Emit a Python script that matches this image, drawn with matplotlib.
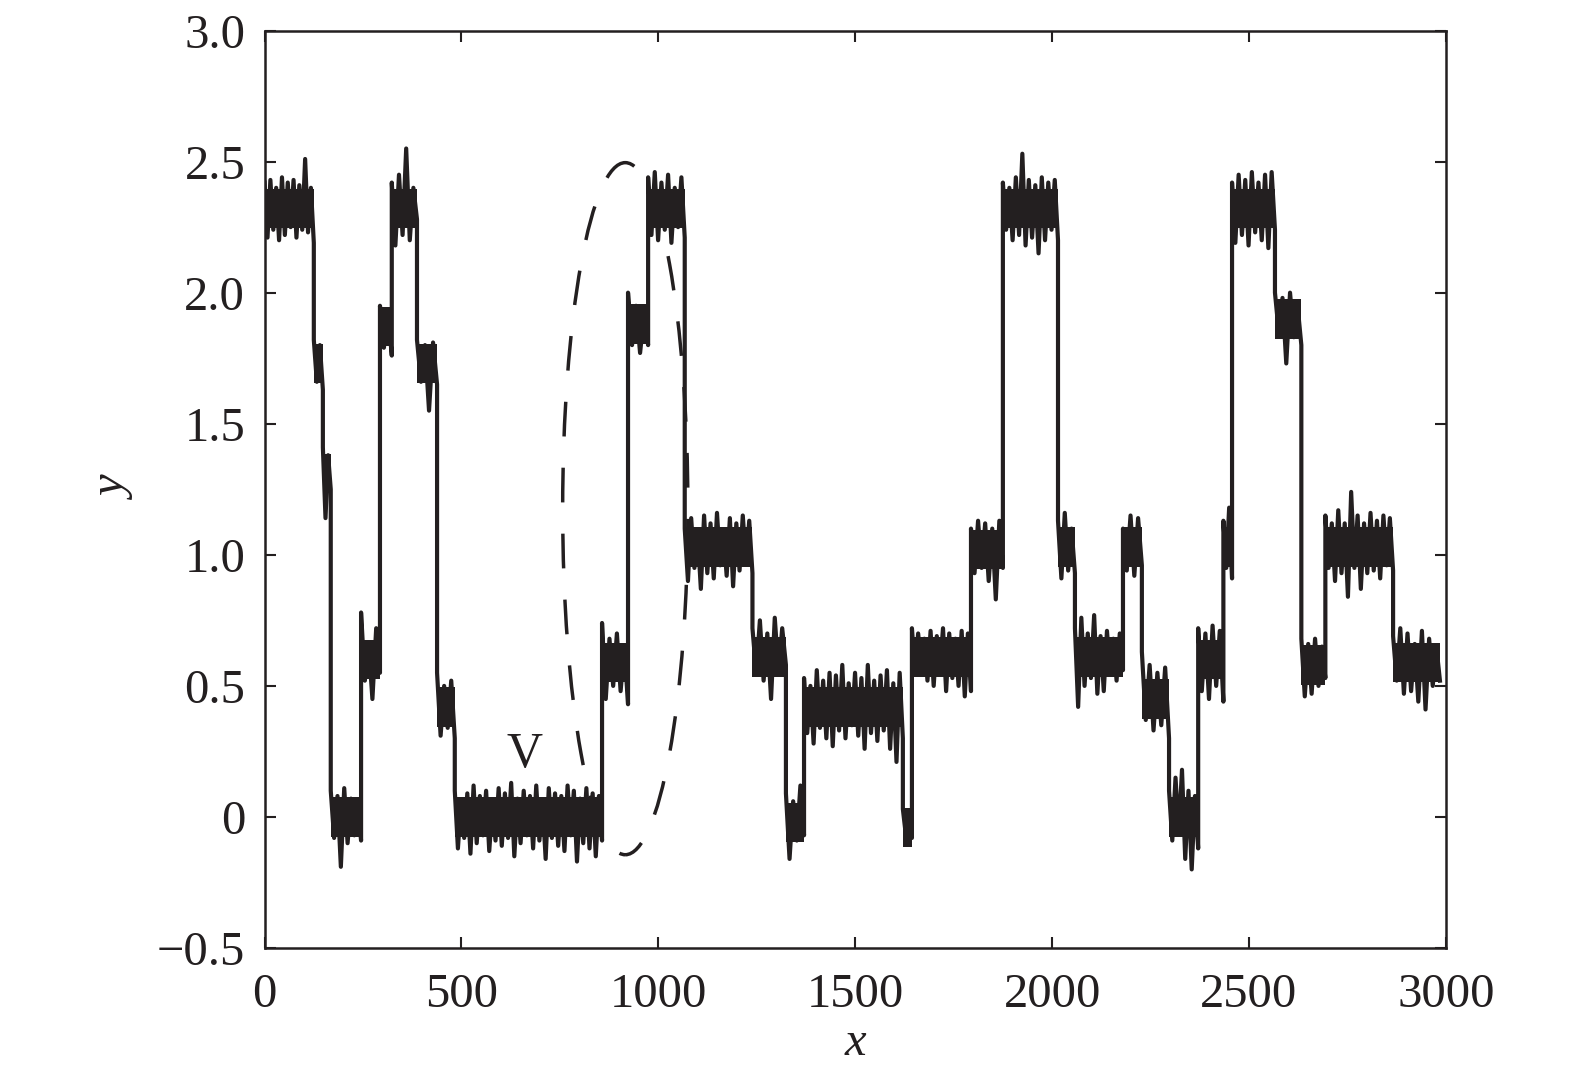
"""
Noisy piecewise-constant signal with a dashed ellipse marking the V region.
"""

import numpy as np
import matplotlib.pyplot as plt
from matplotlib.patches import Ellipse

plt.rcParams['font.family'] = ['Liberation Serif', 'DejaVu Serif']

INK = '#231f20'
CORE_HALF = 0.075   # half height of the dense noise core

# Segment boundaries along x
SEG_EDGES = [0, 125, 148, 168, 245, 293, 323, 387, 438, 483, 857, 923, 974,
             1067, 1239, 1324, 1370, 1621, 1644, 1794, 1875, 2015, 2058,
             2180, 2228, 2297, 2371, 2435, 2457, 2566, 2633, 2694, 2866, 2985]

# Mean level of each segment
SEG_LEVEL = [2.32, 1.73, 1.31, 0.00, 0.60, 1.87, 2.32, 1.73, 0.42, 0.00,
             0.59, 1.88, 2.32, 1.03, 0.61, -0.02, 0.42, -0.04, 0.61, 1.02,
             2.32, 1.03, 0.61, 1.03, 0.45, 0.00, 0.60, 1.03, 2.32, 1.90,
             0.58, 1.03, 0.59]

# Upper spike values in each segment
SEG_HI = [
    [2.42, 2.43, 2.40, 2.44, 2.42, 2.43, 2.41, 2.51, 2.40],
    [1.82, 1.80],
    [1.41, 1.38],
    [0.10, 0.08, 0.11, 0.07, 0.05],
    [0.78, 0.66, 0.72],
    [1.95, 1.93],
    [2.42, 2.45, 2.55, 2.40],
    [1.82, 1.80, 1.81],
    [0.55, 0.50, 0.52],
    [0.10, 0.06, 0.09, 0.12, 0.08, 0.10, 0.05, 0.11, 0.09, 0.13, 0.07, 0.10,
     0.08, 0.12, 0.06, 0.11, 0.09, 0.08, 0.12, 0.10, 0.07, 0.11, 0.09, 0.08],
    [0.74, 0.68, 0.70, 0.65],
    [2.00, 1.95, 1.92],
    [2.44, 2.46, 2.42, 2.45, 2.40, 2.44],
    [1.10, 1.14, 1.08, 1.15, 1.12, 1.16, 1.09, 1.14, 1.12, 1.15, 1.13],
    [0.72, 0.75, 0.70, 0.76, 0.72],
    [0.09, 0.06, 0.12],
    [0.53, 0.50, 0.56, 0.52, 0.55, 0.54, 0.58, 0.51, 0.55, 0.53, 0.58, 0.52,
     0.54, 0.56, 0.51, 0.55],
    [0.03, 0.00],
    [0.72, 0.70, 0.68, 0.71, 0.69, 0.72, 0.70, 0.68, 0.71, 0.70],
    [1.10, 1.13, 1.12, 1.10, 1.13],
    [2.42, 2.40, 2.44, 2.53, 2.43, 2.41, 2.44, 2.42, 2.43],
    [1.13, 1.16, 1.10],
    [0.72, 0.76, 0.70, 0.77, 0.69, 0.71, 0.68, 0.70],
    [1.10, 1.15, 1.14],
    [0.63, 0.58, 0.55, 0.57],
    [0.10, 0.15, 0.18, 0.10, 0.08],
    [0.72, 0.70, 0.73, 0.71],
    [1.13, 1.18],
    [2.42, 2.45, 2.43, 2.46, 2.42, 2.45, 2.46],
    [2.00, 1.98, 2.00, 1.95],
    [0.68, 0.66, 0.68, 0.65],
    [1.15, 1.12, 1.17, 1.12, 1.24, 1.15, 1.12, 1.16, 1.13, 1.15, 1.14],
    [0.69, 0.72, 0.70, 0.66, 0.71, 0.68, 0.65],
]

# Lower spike values in each segment
SEG_LO = [
    [2.21, 2.24, 2.20, 2.22, 2.25, 2.21, 2.24, 2.23, 2.19],
    [1.66, 1.63],
    [1.14, 1.25],
    [-0.08, -0.19, -0.10, -0.07, -0.09],
    [0.52, 0.45, 0.55],
    [1.79, 1.76],
    [2.18, 2.22, 2.20, 2.28],
    [1.66, 1.55, 1.65],
    [0.31, 0.34, 0.30],
    [-0.12, -0.08, -0.14, -0.10, -0.07, -0.13, -0.09, -0.11, -0.08, -0.15,
     -0.10, -0.07, -0.12, -0.09, -0.16, -0.08, -0.11, -0.13, -0.07, -0.17,
     -0.10, -0.12, -0.15, -0.09],
    [0.45, 0.50, 0.48, 0.43],
    [1.80, 1.77, 1.80],
    [2.22, 2.20, 2.24, 2.19, 2.25, 2.21],
    [0.90, 0.95, 0.87, 0.93, 0.91, 0.96, 0.92, 0.88, 0.94, 0.97, 0.93],
    [0.55, 0.52, 0.45, 0.55, 0.58],
    [-0.16, -0.09, -0.07],
    [0.32, 0.28, 0.34, 0.30, 0.27, 0.33, 0.30, 0.35, 0.31, 0.26, 0.32, 0.29,
     0.33, 0.26, 0.21, 0.30],
    [-0.07, -0.08],
    [0.55, 0.58, 0.52, 0.50, 0.56, 0.48, 0.53, 0.50, 0.46, 0.48],
    [0.93, 0.95, 0.90, 0.83, 0.95],
    [2.24, 2.20, 2.22, 2.18, 2.21, 2.15, 2.20, 2.24, 2.20],
    [0.91, 0.94, 0.93],
    [0.42, 0.50, 0.53, 0.47, 0.48, 0.55, 0.52, 0.56],
    [0.94, 0.92, 0.96],
    [0.37, 0.33, 0.35, 0.30],
    [-0.09, -0.06, -0.16, -0.20, -0.12],
    [0.48, 0.45, 0.50, 0.44],
    [0.95, 0.91],
    [2.19, 2.22, 2.18, 2.23, 2.20, 2.17, 2.24],
    [1.85, 1.73, 1.83, 1.80],
    [0.46, 0.47, 0.50, 0.53],
    [0.95, 0.90, 0.93, 0.84, 0.95, 0.87, 0.93, 0.94, 0.91, 0.96, 0.94],
    [0.52, 0.47, 0.48, 0.44, 0.41, 0.50, 0.52],
]

# Dashed ellipse around the jump region, and the V label
ELLIPSE_CENTER = (916, 1.176)
ELLIPSE_SIZE = (318, 2.64)
LABEL_POS = (661, 0.236)

X_TICKS = [0, 500, 1000, 1500, 2000, 2500, 3000]
Y_TICKS = [-0.5, 0, 0.5, 1.0, 1.5, 2.0, 2.5, 3.0]
Y_TICK_LABELS = ['\u22120.5', '0', '0.5', '1.0', '1.5', '2.0', '2.5', '3.0']


def build_trace():
    xs, ys = [], []
    for i in range(len(SEG_HI)):
        a, b = SEG_EDGES[i], SEG_EDGES[i + 1]
        n = 2 * len(SEG_HI[i])
        vals = np.empty(n)
        vals[0::2] = SEG_HI[i]
        vals[1::2] = SEG_LO[i]
        xs.append(np.linspace(a, b, n))
        ys.append(vals)
    return np.concatenate(xs), np.concatenate(ys)


def main():
    x, y = build_trace()

    fig = plt.figure(figsize=(15.75, 10.71), dpi=100)
    ax = fig.add_axes([0.168, 0.1148, 0.750, 0.8567])

    # dense core of the noise band
    for i, lev in enumerate(SEG_LEVEL):
        a, b = SEG_EDGES[i], SEG_EDGES[i + 1]
        ax.fill_between([a, b], lev - CORE_HALF, lev + CORE_HALF,
                        color=INK, linewidth=0)

    ax.plot(x, y, color=INK, linewidth=3.0, solid_joinstyle='round')

    ell = Ellipse(ELLIPSE_CENTER, ELLIPSE_SIZE[0], ELLIPSE_SIZE[1],
                  fill=False, edgecolor=INK, linewidth=2.5,
                  linestyle=(4, (10, 9)))
    ax.add_patch(ell)

    ax.text(LABEL_POS[0], LABEL_POS[1], 'V', fontsize=36,
            ha='center', va='center', color=INK)

    ax.set_xlim(0, 3000)
    ax.set_ylim(-0.5, 3.0)
    ax.set_xticks(X_TICKS)
    ax.set_yticks(Y_TICKS)
    ax.set_yticklabels(Y_TICK_LABELS)

    ax.tick_params(direction='in', length=8, width=1.5, top=True, right=True,
                   labelsize=35, colors=INK)
    ax.tick_params(axis='x', pad=18)
    ax.tick_params(axis='y', pad=14)
    for s in ax.spines.values():
        s.set_linewidth(1.8)
        s.set_color(INK)

    ax.set_xlabel('x', fontsize=35, style='italic', labelpad=3, color=INK)
    ax.set_ylabel('y', fontsize=35, style='italic', labelpad=14, color=INK)

    fig.savefig('out.png', dpi=100)


if __name__ == "__main__":
    main()
